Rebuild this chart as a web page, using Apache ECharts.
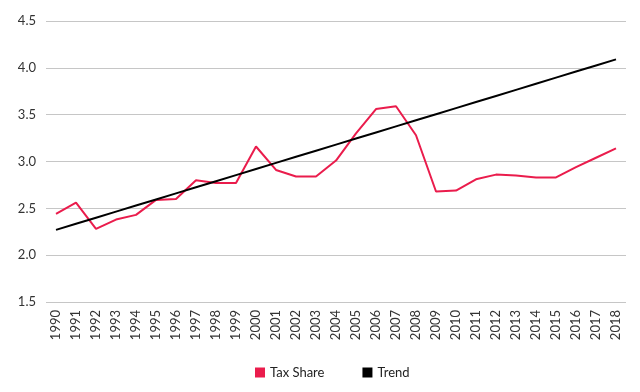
<!DOCTYPE html>
<html><head><meta charset="utf-8">
<script src="https://cdn.jsdelivr.net/npm/echarts@6/dist/echarts.min.js"></script>
<style>html,body{margin:0;padding:0;background:#fff}#c{width:640px;height:392px}</style>
</head><body><div id="c"></div>
<script>
const years = ['1990','1991','1992','1993','1994','1995','1996','1997','1998','1999','2000','2001','2002','2003','2004','2005','2006','2007','2008','2009','2010','2011','2012','2013','2014','2015','2016','2017','2018'];
const taxShare = [2.44,2.56,2.28,2.38,2.43,2.59,2.60,2.80,2.77,2.77,3.16,2.91,2.84,2.84,3.01,3.30,3.56,3.59,3.28,2.68,2.69,2.81,2.86,2.85,2.83,2.83,2.94,3.04,3.14];
const trend = [2.27,2.335,2.40,2.465,2.53,2.595,2.66,2.725,2.79,2.855,2.92,2.985,3.05,3.115,3.18,3.245,3.31,3.375,3.44,3.505,3.57,3.635,3.70,3.765,3.83,3.895,3.96,4.025,4.09];
const yTicks = {min:1.5, max:4.5, interval:0.5};
const chart = echarts.init(document.getElementById('c'));
chart.setOption({
  animation:false,
  textStyle:{fontFamily:'Lato'},
  grid:{left:46,right:14,top:21,bottom:90},
  legend:{bottom:8,left:250,itemWidth:10,itemHeight:10,itemGap:38,icon:'rect',
    textStyle:{fontSize:13,color:'#222'},
    data:['Tax Share','Trend']},
  xAxis:{type:'category',data:years,boundaryGap:true,
    axisLine:{show:false},axisTick:{show:false},
    axisLabel:{rotate:90,fontSize:13,color:'#333',margin:8,interval:0}},
  yAxis:{type:'value',min:yTicks.min,max:yTicks.max,interval:yTicks.interval,
    axisLine:{show:false},axisTick:{show:false},
    axisLabel:{fontSize:13,color:'#333',margin:10,formatter:v=>v.toFixed(1)},
    splitLine:{lineStyle:{color:'#c6c6c6',width:1}}},
  series:[
    {name:'Tax Share',type:'line',data:taxShare,symbol:'none',lineStyle:{color:'#ea1c4c',width:2},itemStyle:{color:'#ea1c4c'}},
    {name:'Trend',type:'line',data:trend,symbol:'none',lineStyle:{color:'#000',width:2},itemStyle:{color:'#000'}}
  ]
});
</script></body></html>
